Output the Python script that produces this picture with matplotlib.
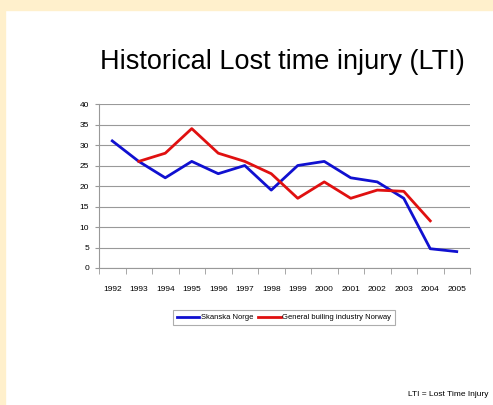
import numpy as np
import matplotlib
matplotlib.use("Agg")
import matplotlib.pyplot as plt
from matplotlib.patches import Rectangle

plt.rcParams['font.family'] = ['Liberation Sans', 'DejaVu Sans']

years = ['1992', '1993', '1994', '1995', '1996', '1997', '1998',
         '1999', '2000', '2001', '2002', '2003', '2004', '2005']
skanska = [31, 26, 22, 26, 23, 25, 19, 25, 26, 22, 21, 17, 4.7, 4]
general = [np.nan, 26, 28, 34, 28, 26, 23, 17, 21, 17, 19, 18.7, 11.5, np.nan]

fig = plt.figure(figsize=(4.93, 4.05), dpi=100)
fig.patch.set_facecolor('white')
# cream frame top and left
fig.add_artist(Rectangle((0, 1 - 10 / 405), 1, 10 / 405, transform=fig.transFigure,
                         color='#fff0cc', zorder=0))
fig.add_artist(Rectangle((0, 0), 5 / 493, 1, transform=fig.transFigure,
                         color='#fff0cc', zorder=0))

ax = fig.add_axes([99 / 493, 1 - 268 / 405, 371 / 493, 164 / 405])
x = np.arange(len(years))
ax.plot(x, skanska, color='#1010d0', lw=2.0, label='Skanska Norge')
ax.plot(x, general, color='#e01010', lw=2.0, label='General builing industry Norway')

ax.set_xlim(-0.5, len(years) - 0.5)
ax.set_ylim(0, 40)
ax.set_yticks(range(0, 41, 5))
ax.set_xticks(x)
ax.set_xticklabels(years)
ax.set_xticks(np.arange(-0.5, len(years), 1), minor=True)
ax.tick_params(axis='x', which='major', length=0, labelsize=6, pad=13)
ax.tick_params(axis='x', which='minor', length=4, color='#999999', direction='out')
ax.tick_params(axis='y', length=3, color='#999999', labelsize=6, pad=4)
ax.yaxis.grid(True, color='#999999', lw=0.8)
ax.set_axisbelow(True)
for s in ['top', 'right']:
    ax.spines[s].set_visible(False)
for s in ['left', 'bottom']:
    ax.spines[s].set_color('#999999')
    ax.spines[s].set_linewidth(0.8)

fig.text(0.572, 1 - 62 / 405, 'Historical Lost time injury (LTI)', ha='center', va='center',
         fontsize=19.5)
leg = fig.legend(loc='center', bbox_to_anchor=(0.576, 0.216), ncol=2, fontsize=5.5,
                 frameon=True, fancybox=False, edgecolor='#999999', handlelength=3,
                 columnspacing=0.6, handletextpad=0.2, borderpad=0.5)
leg.get_frame().set_linewidth(0.8)

fig.text(0.99, 1 - 395 / 405, 'LTI = Lost Time Injury', ha='right', va='center', fontsize=6)

fig.savefig('out.png', dpi=100)
